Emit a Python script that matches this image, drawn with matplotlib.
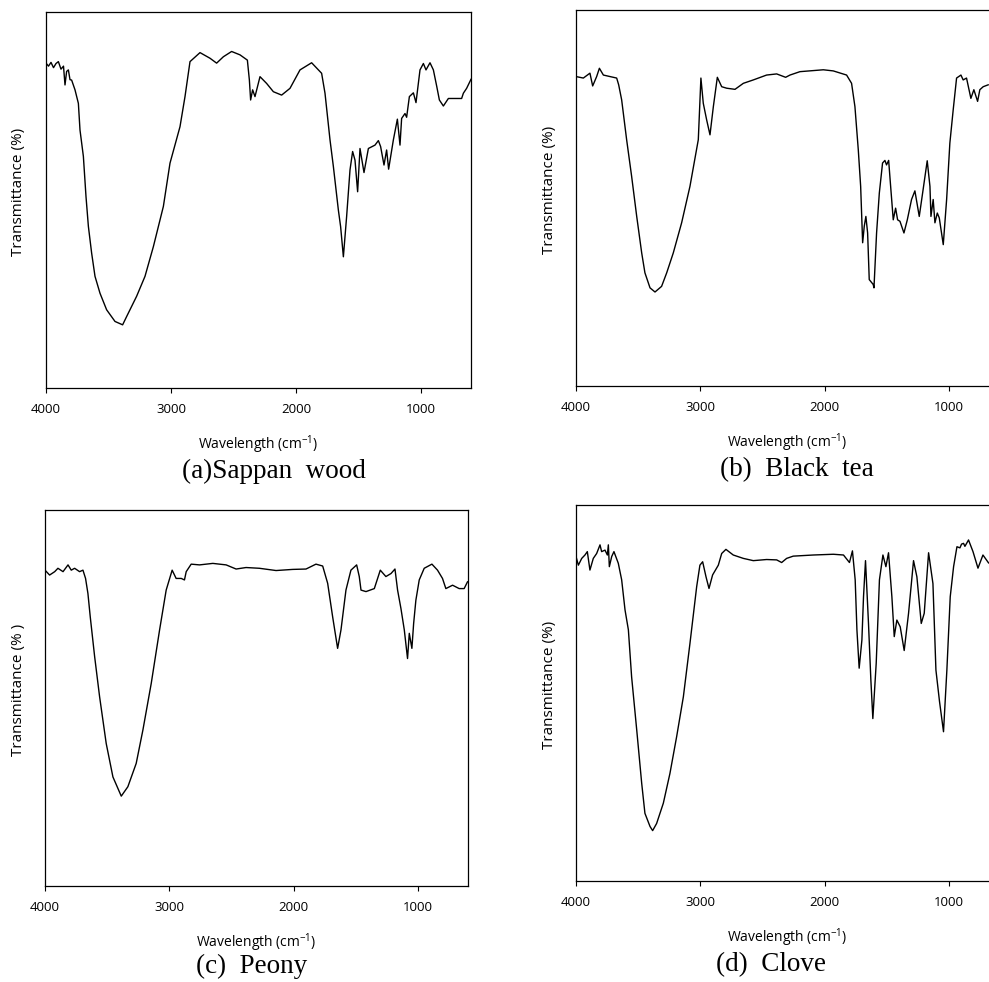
import matplotlib
matplotlib.use("Agg")
import matplotlib.pyplot as plt
import numpy as np

# FT-IR spectra (wavenumber in cm-1, transmittance in % of panel height)
wn_a = [4000, 3980, 3960, 3940, 3920, 3901, 3880, 3860, 3848, 3835, 3821, 3808, 3795, 3768, 3741, 3728,
        3701, 3680, 3661, 3635, 3608, 3568, 3515, 3448, 3387, 3355, 3275, 3208, 3141, 3061, 3008, 2928,
        2888, 2848, 2768, 2688, 2635, 2581, 2515, 2448, 2389, 2373, 2363, 2347, 2328, 2288, 2235, 2181,
        2115, 2048, 1968, 1875, 1795, 1768, 1728, 1701, 1661, 1643, 1621, 1595, 1568, 1547, 1528, 1507,
        1488, 1456, 1421, 1368, 1341, 1323, 1296, 1275, 1259, 1221, 1189, 1168, 1155, 1128, 1115, 1093,
        1061, 1040, 1008, 981, 960, 928, 901, 874, 853, 821, 781, 741, 675, 661, 635, 600]
t_a = [86.4, 85.6, 86.6, 85.2, 86.3, 86.8, 84.8, 85.6, 80.6, 84.2, 84.6, 82.0, 81.9, 79.3, 75.7, 68.6,
       61.6, 50.9, 43.0, 35.9, 29.7, 25.2, 20.8, 17.7, 16.8, 19.0, 24.4, 29.7, 37.6, 48.3, 59.8, 69.5,
       77.5, 86.8, 89.2, 87.7, 86.4, 88.1, 89.5, 88.6, 87.2, 81.9, 76.6, 79.3, 77.5, 82.8, 81.0, 78.8,
       77.9, 79.7, 84.6, 86.5, 83.7, 78.4, 66.0, 58.9, 47.3, 42.9, 34.9, 45.6, 58.0, 62.9, 60.6, 52.2,
       63.7, 57.3, 63.7, 64.6, 65.8, 64.2, 59.3, 63.3, 58.2, 66.0, 71.5, 64.6, 71.7, 73.0, 72.0, 77.5,
       78.5, 75.9, 84.6, 86.3, 84.6, 86.5, 84.6, 80.2, 76.6, 75.0, 77.0, 77.0, 77.0, 78.4, 79.7, 82.1]

wn_b = [4000, 3941, 3888, 3866, 3834, 3812, 3780, 3727, 3673, 3657, 3633, 3593, 3553, 3512, 3472, 3446,
        3405, 3365, 3312, 3271, 3218, 3151, 3084, 3017, 2996, 2977, 2950, 2923, 2896, 2864, 2829, 2789,
        2722, 2655, 2575, 2468, 2387, 2347, 2315, 2280, 2200, 2012, 1932, 1825, 1785, 1758, 1731, 1712,
        1696, 1683, 1670, 1656, 1643, 1611, 1605, 1584, 1562, 1536, 1517, 1504, 1487, 1471, 1450, 1431,
        1415, 1396, 1364, 1337, 1303, 1276, 1241, 1214, 1177, 1155, 1147, 1129, 1115, 1096, 1080, 1048,
        1021, 995, 968, 941, 906, 888, 861, 826, 802, 772, 754, 727, 687]
t_b = [82.3, 81.9, 83.2, 79.8, 82.3, 84.5, 82.7, 82.3, 81.9, 80.1, 76.1, 65.5, 55.8, 45.1, 35.4, 30.1,
       26.1, 25.0, 26.5, 30.1, 35.4, 43.4, 53.1, 65.5, 81.9, 75.2, 70.8, 66.8, 74.3, 82.1, 79.6, 79.2,
       78.9, 80.5, 81.4, 82.7, 83.0, 82.5, 82.1, 82.7, 83.6, 84.1, 83.8, 82.7, 80.5, 74.3, 62.8, 53.1,
       38.1, 42.5, 45.1, 40.7, 28.3, 27.0, 26.1, 40.7, 51.3, 59.3, 60.0, 58.8, 60.0, 53.1, 44.2, 47.3,
       44.2, 43.8, 40.7, 44.2, 49.6, 51.9, 45.1, 51.3, 59.9, 53.1, 45.1, 49.6, 43.4, 46.0, 44.7, 37.6,
       49.6, 64.6, 73.5, 81.9, 82.7, 81.4, 81.9, 76.5, 78.8, 75.7, 78.8, 79.6, 80.1]

wn_c = [4000, 3963, 3922, 3896, 3855, 3815, 3789, 3762, 3722, 3695, 3674, 3655, 3636, 3601, 3561, 3508,
        3454, 3387, 3334, 3267, 3213, 3146, 3079, 3026, 2978, 2946, 2905, 2879, 2865, 2825, 2758, 2651,
        2544, 2464, 2384, 2277, 2143, 2009, 1902, 1822, 1768, 1728, 1688, 1648, 1621, 1581, 1541, 1495,
        1474, 1460, 1420, 1353, 1305, 1260, 1219, 1187, 1166, 1139, 1112, 1086, 1072, 1051, 1037, 1019,
        992, 952, 890, 845, 805, 778, 724, 671, 631, 604]
t_c = [84.0, 82.7, 83.6, 84.5, 83.6, 85.4, 84.0, 84.5, 83.6, 84.0, 81.8, 77.8, 71.5, 61.0, 50.3, 37.9,
       29.0, 23.9, 26.4, 32.6, 41.5, 53.9, 68.1, 78.7, 84.0, 81.8, 81.8, 81.4, 83.6, 85.6, 85.4, 85.8,
       85.4, 84.3, 84.7, 84.5, 83.9, 84.2, 84.3, 85.6, 85.1, 80.5, 71.6, 63.2, 68.1, 78.7, 84.0, 85.4,
       82.3, 78.7, 78.3, 79.1, 84.0, 82.3, 83.1, 84.3, 78.7, 73.8, 68.1, 60.5, 67.2, 63.2, 69.8, 76.0,
       81.4, 84.5, 85.6, 84.0, 81.8, 79.1, 80.0, 79.1, 79.1, 80.9]

wn_d = [4000, 3981, 3954, 3928, 3909, 3888, 3861, 3834, 3807, 3794, 3767, 3748, 3740, 3732, 3713, 3695,
        3660, 3633, 3606, 3579, 3553, 3512, 3472, 3446, 3405, 3384, 3352, 3298, 3245, 3191, 3137, 3084,
        3030, 3004, 2982, 2955, 2931, 2902, 2856, 2829, 2795, 2736, 2655, 2575, 2468, 2387, 2347, 2307,
        2254, 2093, 1932, 1850, 1802, 1778, 1756, 1742, 1724, 1702, 1689, 1673, 1649, 1630, 1614, 1587,
        1561, 1533, 1509, 1488, 1461, 1442, 1421, 1394, 1362, 1327, 1287, 1260, 1225, 1201, 1166, 1131,
        1107, 1078, 1046, 1019, 992, 965, 938, 914, 901, 885, 874, 845, 809, 769, 729, 684]
t_d = [86.3, 84.0, 85.8, 86.7, 87.6, 82.7, 85.8, 87.1, 89.4, 87.6, 88.0, 86.7, 89.4, 83.6, 86.3, 87.6,
       84.5, 80.1, 72.1, 66.8, 54.3, 40.2, 26.0, 18.0, 14.5, 13.4, 15.3, 20.7, 28.6, 38.4, 49.0, 63.2,
       78.3, 84.0, 84.9, 80.9, 77.8, 81.4, 84.0, 87.1, 88.2, 86.7, 85.8, 85.2, 85.5, 85.4, 84.7, 85.8,
       86.4, 86.7, 86.9, 86.7, 84.7, 87.8, 80.1, 66.8, 56.6, 64.1, 75.6, 85.2, 68.5, 53.5, 43.2, 57.9,
       80.1, 86.7, 83.6, 87.3, 75.6, 65.0, 69.4, 67.6, 61.3, 71.2, 85.2, 80.9, 68.5, 71.2, 87.3, 79.1,
       56.1, 47.7, 39.7, 56.1, 75.6, 83.6, 88.9, 88.6, 89.6, 89.8, 89.0, 90.7, 87.6, 83.2, 86.7, 84.6]

titles = ["(a)Sappan  wood", "(b)  Black  tea", "(c)  Peony", "(d)  Clove"]
ylabels = ["Transmittance (%)", "Transmittance (%)", "Transmittance (% )", "Transmittance (%)"]
xticks = [4000, 3000, 2000, 1000]

W, H = 989, 982
fig = plt.figure(figsize=(W / 100, H / 100), dpi=100)

def fx(p):
    return p / W

def fy(p):
    return 1 - p / H

# panel boxes in pixels: left, top, right, bottom  (b/d run past the right edge)
boxes = [(46, 12, 471, 388), (576, 10, 999, 386), (45, 510, 468, 886), (576, 505, 999, 881)]
title_pos = [(274, 471), (797, 470), (252, 966), (771, 965)]
xlab_y = [445, 443, 943, 938]
ylab_x = [19, 550, 19, 550]

spectra = [(wn_a, t_a), (wn_b, t_b), (wn_c, t_c), (wn_d, t_d)]
sans = "Open Sans"

for i, (wn, t) in enumerate(spectra):
    l, tp, r, b = boxes[i]
    ax = fig.add_axes([fx(l), fy(b), fx(r - l), (b - tp) / H])
    ax.plot(wn, t, color="black", lw=1.0)
    ax.set_xlim(4000, 600)
    ax.set_ylim(0, 100)
    ax.set_xticks(xticks)
    ax.set_xticklabels([str(v) for v in xticks], fontfamily=sans, fontsize=9.5)
    ax.set_yticks([])
    ax.tick_params(axis="x", direction="out", length=3.5, width=0.8, pad=7)
    for s in ax.spines.values():
        s.set_linewidth(0.9)
    cx = (l + r) / 2
    fig.text(fx(cx), fy(xlab_y[i]), "Wavelength (cm$^{\\mathregular{-1}}$)",
             fontfamily=sans, fontsize=10, ha="center", va="center")
    fig.text(fx(ylab_x[i]), fy((tp + b) / 2 - 8), ylabels[i], rotation=90,
             fontfamily=sans, fontsize=11, ha="center", va="center")
    fig.text(fx(title_pos[i][0]), fy(title_pos[i][1]), titles[i],
             fontfamily="Liberation Serif", fontsize=19.5, ha="center", va="center")

fig.savefig("out.png", dpi=100)
